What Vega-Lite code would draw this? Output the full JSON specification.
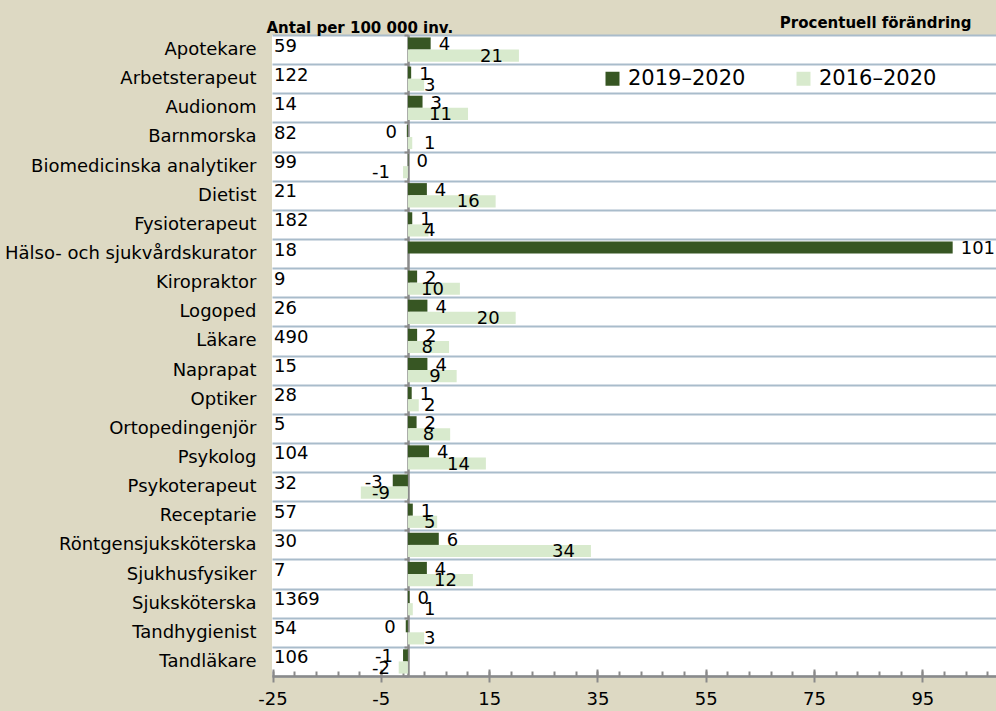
{
  "$schema": "https://vega.github.io/schema/vega-lite/v6.json",
  "width": 724,
  "height": 641,
  "autosize": "none",
  "padding": {"left": 272, "top": 35, "right": 0, "bottom": 35},
  "background": "#ddd9c3",
  "config": {
    "view": {"fill": "white", "stroke": null},
    "font": "DejaVu Sans",
    "text": {"font": "DejaVu Sans", "fontSize": 18, "color": "#000000", "baseline": "middle"}
  },
  "data": {
    "values": [
      {"yrke": "Apotekare", "period": "2019–2020", "value": 4.2, "label": "4", "antal": "59"},
      {"yrke": "Apotekare", "period": "2016–2020", "value": 20.5, "label": "21", "antal": "59"},
      {"yrke": "Arbetsterapeut", "period": "2019–2020", "value": 0.6, "label": "1", "antal": "122"},
      {"yrke": "Arbetsterapeut", "period": "2016–2020", "value": 3, "label": "3", "antal": "122"},
      {"yrke": "Audionom", "period": "2019–2020", "value": 2.7, "label": "3", "antal": "14"},
      {"yrke": "Audionom", "period": "2016–2020", "value": 11.1, "label": "11", "antal": "14"},
      {"yrke": "Barnmorska", "period": "2019–2020", "value": -0.2, "label": "0", "antal": "82"},
      {"yrke": "Barnmorska", "period": "2016–2020", "value": 0.8, "label": "1", "antal": "82"},
      {"yrke": "Biomedicinska analytiker", "period": "2019–2020", "value": 0.1, "label": "0", "antal": "99"},
      {"yrke": "Biomedicinska analytiker", "period": "2016–2020", "value": -0.9, "label": "-1", "antal": "99"},
      {"yrke": "Dietist", "period": "2019–2020", "value": 3.5, "label": "4", "antal": "21"},
      {"yrke": "Dietist", "period": "2016–2020", "value": 16.2, "label": "16", "antal": "21"},
      {"yrke": "Fysioterapeut", "period": "2019–2020", "value": 0.8, "label": "1", "antal": "182"},
      {"yrke": "Fysioterapeut", "period": "2016–2020", "value": 3.8, "label": "4", "antal": "182"},
      {"yrke": "Hälso- och sjukvårdskurator", "period": "2019–2020", "value": 100.6, "label": "101", "antal": "18"},
      {"yrke": "Kiropraktor", "period": "2019–2020", "value": 1.7, "label": "2", "antal": "9"},
      {"yrke": "Kiropraktor", "period": "2016–2020", "value": 9.6, "label": "10", "antal": "9"},
      {"yrke": "Logoped", "period": "2019–2020", "value": 3.6, "label": "4", "antal": "26"},
      {"yrke": "Logoped", "period": "2016–2020", "value": 19.9, "label": "20", "antal": "26"},
      {"yrke": "Läkare", "period": "2019–2020", "value": 1.7, "label": "2", "antal": "490"},
      {"yrke": "Läkare", "period": "2016–2020", "value": 7.6, "label": "8", "antal": "490"},
      {"yrke": "Naprapat", "period": "2019–2020", "value": 3.6, "label": "4", "antal": "15"},
      {"yrke": "Naprapat", "period": "2016–2020", "value": 9.0, "label": "9", "antal": "15"},
      {"yrke": "Optiker", "period": "2019–2020", "value": 0.7, "label": "1", "antal": "28"},
      {"yrke": "Optiker", "period": "2016–2020", "value": 2.0, "label": "2", "antal": "28"},
      {"yrke": "Ortopedingenjör", "period": "2019–2020", "value": 1.6, "label": "2", "antal": "5"},
      {"yrke": "Ortopedingenjör", "period": "2016–2020", "value": 7.8, "label": "8", "antal": "5"},
      {"yrke": "Psykolog", "period": "2019–2020", "value": 3.9, "label": "4", "antal": "104"},
      {"yrke": "Psykolog", "period": "2016–2020", "value": 14.4, "label": "14", "antal": "104"},
      {"yrke": "Psykoterapeut", "period": "2019–2020", "value": -2.8, "label": "-3", "antal": "32"},
      {"yrke": "Psykoterapeut", "period": "2016–2020", "value": -8.7, "label": "-9", "antal": "32"},
      {"yrke": "Receptarie", "period": "2019–2020", "value": 0.9, "label": "1", "antal": "57"},
      {"yrke": "Receptarie", "period": "2016–2020", "value": 5.4, "label": "5", "antal": "57"},
      {"yrke": "Röntgensjuksköterska", "period": "2019–2020", "value": 5.7, "label": "6", "antal": "30"},
      {"yrke": "Röntgensjuksköterska", "period": "2016–2020", "value": 33.8, "label": "34", "antal": "30"},
      {"yrke": "Sjukhusfysiker", "period": "2019–2020", "value": 3.5, "label": "4", "antal": "7"},
      {"yrke": "Sjukhusfysiker", "period": "2016–2020", "value": 12.0, "label": "12", "antal": "7"},
      {"yrke": "Sjuksköterska", "period": "2019–2020", "value": 0.3, "label": "0", "antal": "1369"},
      {"yrke": "Sjuksköterska", "period": "2016–2020", "value": 0.9, "label": "1", "antal": "1369"},
      {"yrke": "Tandhygienist", "period": "2019–2020", "value": -0.4, "label": "0", "antal": "54"},
      {"yrke": "Tandhygienist", "period": "2016–2020", "value": 3.0, "label": "3", "antal": "54"},
      {"yrke": "Tandläkare", "period": "2019–2020", "value": -0.9, "label": "-1", "antal": "106"},
      {"yrke": "Tandläkare", "period": "2016–2020", "value": -1.7, "label": "-2", "antal": "106"}
    ]
  },
  "resolve": {"axis": {"x": "independent", "y": "independent"}},
  "layer": [
    {
      "mark": {"type": "bar"},
      "encoding": {
        "y": {
          "field": "yrke", "type": "nominal", "sort": null,
          "scale": {"paddingInner": 0, "paddingOuter": 0},
          "axis": {
            "orient": "left",
            "title": "Antal per 100 000 inv.",
            "titleAngle": 0, "titleAlign": "left", "titleBaseline": "alphabetic",
            "titleX": -6, "titleY": -3,
            "titleFont": "DejaVu Sans", "titleFontSize": 15, "titleFontWeight": "bold", "titleColor": "#000000",
            "labelFont": "DejaVu Sans", "labelFontSize": 18, "labelColor": "#000000",
            "labelPadding": 16, "labelLimit": 300,
            "ticks": false, "tickSize": 0, "domain": false,
            "grid": true, "gridColor": "#a9bccb", "gridWidth": 2, "tickBand": "extent"
          }
        },
        "yOffset": {
          "field": "period", "type": "nominal", "sort": ["2019–2020", "2016–2020"],
          "scale": {"paddingOuter": 0.2, "paddingInner": 0}
        },
        "x": {
          "field": "value", "type": "quantitative",
          "scale": {"domain": [-25.1, 108.6], "nice": false},
          "axis": {
            "orient": "bottom", "title": null, "labels": false, "grid": false,
            "values": [-25, -21, -17, -13, -9, -5, -1, 3, 7, 11, 15, 19, 23, 27, 31, 35, 39, 43, 47, 51, 55, 59, 63, 67, 71, 75, 79, 83, 87, 91, 95, 99, 103, 107],
            "tickSize": -5, "tickWidth": 2, "tickColor": "#8a8a8a",
            "domain": true, "domainColor": "#8a8a8a", "domainWidth": 2.5
          }
        },
        "color": {
          "field": "period", "type": "nominal",
          "scale": {"domain": ["2019–2020", "2016–2020"], "range": ["#375623", "#d8eacd"]},
          "legend": {
            "title": null, "orient": "none", "legendX": 330, "legendY": 33,
            "direction": "horizontal", "symbolType": "square", "symbolSize": 196,
            "symbolStrokeWidth": 0, "labelFont": "DejaVu Sans", "labelFontSize": 21,
            "labelColor": "#000000", "labelOffset": 5, "columnPadding": 47
          }
        }
      }
    },
    {
      "transform": [{"filter": {"field": "period", "equal": "2019–2020"}}],
      "mark": {"type": "text", "align": "left", "dx": 2, "dy": -3},
      "encoding": {
        "y": {
          "field": "yrke", "type": "nominal", "sort": null,
          "axis": {
            "orient": "left", "offset": -136, "labels": false,
            "ticks": true, "tickSize": 4, "tickWidth": 2, "tickColor": "#8a8a8a", "tickBand": "extent",
            "domain": true, "domainColor": "#8a8a8a", "domainWidth": 2.5, "grid": false,
            "title": "Procentuell förändring",
            "titleAngle": 0, "titleAlign": "right", "titleBaseline": "alphabetic",
            "titleX": 563, "titleY": -8,
            "titleFont": "DejaVu Sans", "titleFontSize": 15, "titleFontWeight": "bold", "titleColor": "#000000"
          }
        },
        "x": {"datum": -25.1, "type": "quantitative", "axis": null},
        "text": {"field": "antal"}
      }
    },
    {
      "transform": [{"filter": {"and": [{"field": "period", "equal": "2019–2020"}, {"field": "value", "gte": 0}]}}],
      "mark": {"type": "text", "align": "left", "dx": 8, "dy": 2},
      "encoding": {
        "y": {"field": "yrke", "type": "nominal", "sort": null, "axis": null},
        "yOffset": {"field": "period", "type": "nominal", "sort": ["2019–2020", "2016–2020"]},
        "x": {
          "field": "value", "type": "quantitative",
          "axis": {
            "orient": "bottom", "title": null, "grid": false, "domain": false,
            "values": [-25, -5, 15, 35, 55, 75, 95],
            "offset": -7, "tickSize": 13, "tickWidth": 2, "tickColor": "#8a8a8a",
            "labelPadding": 8, "labelFont": "DejaVu Sans", "labelFontSize": 18, "labelColor": "#000000",
            "labelFlush": false, "labelOverlap": false,
            "labelExpr": "replace(datum.label, '−', '-')"
          }
        },
        "text": {"field": "label"}
      }
    },
    {
      "transform": [{"filter": {"and": [{"field": "period", "equal": "2019–2020"}, {"field": "value", "lt": 0}]}}],
      "mark": {"type": "text", "align": "right", "dx": -10, "dy": 2},
      "encoding": {
        "y": {"field": "yrke", "type": "nominal", "sort": null, "axis": null},
        "yOffset": {"field": "period", "type": "nominal", "sort": ["2019–2020", "2016–2020"]},
        "x": {"field": "value", "type": "quantitative", "axis": null},
        "text": {"field": "label"}
      }
    },
    {
      "transform": [{"filter": {"and": [{"field": "period", "equal": "2016–2020"}, {"field": "value", "gte": 6}]}}],
      "mark": {"type": "text", "align": "right", "dx": -16, "dy": 1},
      "encoding": {
        "y": {"field": "yrke", "type": "nominal", "sort": null, "axis": null},
        "yOffset": {"field": "period", "type": "nominal", "sort": ["2019–2020", "2016–2020"]},
        "x": {"field": "value", "type": "quantitative", "axis": null},
        "text": {"field": "label"}
      }
    },
    {
      "transform": [{"filter": {"and": [{"field": "period", "equal": "2016–2020"}, {"field": "value", "gte": 0}, {"field": "value", "lt": 6}]}}],
      "mark": {"type": "text", "align": "left", "dx": 16, "dy": 1},
      "encoding": {
        "y": {"field": "yrke", "type": "nominal", "sort": null, "axis": null},
        "yOffset": {"field": "period", "type": "nominal", "sort": ["2019–2020", "2016–2020"]},
        "x": {"datum": 0, "type": "quantitative", "axis": null},
        "text": {"field": "label"}
      }
    },
    {
      "transform": [{"filter": {"and": [{"field": "period", "equal": "2016–2020"}, {"field": "value", "lt": 0}]}}],
      "mark": {"type": "text", "align": "right", "dx": -18, "dy": 1},
      "encoding": {
        "y": {"field": "yrke", "type": "nominal", "sort": null, "axis": null},
        "yOffset": {"field": "period", "type": "nominal", "sort": ["2019–2020", "2016–2020"]},
        "x": {"datum": 0, "type": "quantitative", "axis": null},
        "text": {"field": "label"}
      }
    }
  ]
}
